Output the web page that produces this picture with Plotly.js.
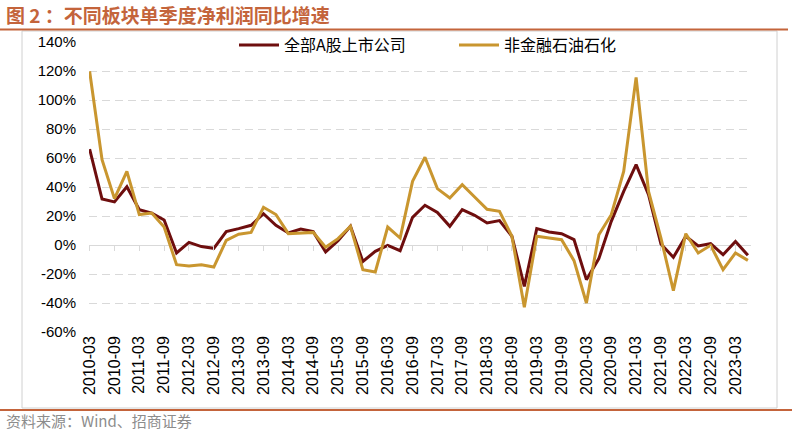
<!DOCTYPE html>
<html>
<head>
<meta charset="utf-8">
<script src="https://cdn.plot.ly/plotly-3.0.1.min.js"></script>
<style>
  body { margin: 0; background: #fff; }
  #chart { width: 792px; height: 434px; }
</style>
</head>
<body>
<div id="chart"></div>
<script>
// 季度
var quarters = [
    '2010-03', '2010-06', '2010-09', '2010-12', '2011-03', '2011-06', '2011-09', '2011-12',
    '2012-03', '2012-06', '2012-09', '2012-12', '2013-03', '2013-06', '2013-09', '2013-12',
    '2014-03', '2014-06', '2014-09', '2014-12', '2015-03', '2015-06', '2015-09', '2015-12',
    '2016-03', '2016-06', '2016-09', '2016-12', '2017-03', '2017-06', '2017-09', '2017-12',
    '2018-03', '2018-06', '2018-09', '2018-12', '2019-03', '2019-06', '2019-09', '2019-12',
    '2020-03', '2020-06', '2020-09', '2020-12', '2021-03', '2021-06', '2021-09', '2021-12',
    '2022-03', '2022-06', '2022-09', '2022-12', '2023-03', '2023-06'
];

// 单季度净利润同比增速（%）
var allAShares = [
    66.2, 31.7, 29.7, 40.2, 24.4, 22, 17.2, -5.5, 1.8, -1.1, -2.3, 9.2, 11.3, 13.6,
    21.6, 13.6, 8.3, 11, 9.2, -4.8, 3, 12.9, -11.3, -4.4, -0.2, -3.9, 19.1, 27.4,
    22.5, 12.9, 24.4, 20.5, 15.2, 16.8, 6, -28.5, 11.3, 9, 7.8, 3.7, -23.9, -9.4,
    16.3, 37, 55.4, 34.7, 0.7, -8.5, 6, -0.7, 0.9, -6.7, 2.5, -7.1
];
var exFinPetro = [
    119.8, 58.9, 32, 50.8, 21, 22, 12.4, -13.6, -14.5, -13.6, -15.2, 3.2, 7.4, 8.7,
    26, 21, 7.8, 8.3, 8.7, -1.6, 4.4, 12.9, -17, -18.6, 12.4, 4.8, 43.9, 60.5,
    38.9, 32.4, 41.6, 33.1, 24.6, 23.2, 6, -43, 6, 4.8, 3.7, -10.8, -40, 7.1,
    20.9, 50.8, 115.6, 37, 4.8, -31.5, 7.8, -5.5, -0.2, -17, -5.5, -10.6
];

var seriesNames = ['全部A股上市公司', '非金融石油石化'];
var yTicks = [-60, -40, -20, 0, 20, 40, 60, 80, 100, 120, 140];

// 每隔一个季度标一次
var xTicks = quarters.filter(function (q, i) { return i % 2 === 0; });

// 像素 -> paper 坐标
var W = 792, H = 434, mL = 89, mR = 41, mT = 42, mB = 102;
var pw = W - mL - mR, ph = H - mT - mB;
function px(p) { return (p - mL) / pw; }
function py(p) { return (H - mB - p) / ph; }

var accent = '#C4643B';
var grid = '#D9D9D9';

var data = [
    {
        x: quarters,
        y: allAShares,
        name: seriesNames[0],
        type: 'scatter',
        mode: 'lines',
        line: {color: '#6E0E0E', width: 3}
    },
    {
        x: quarters,
        y: exFinPetro,
        name: seriesNames[1],
        type: 'scatter',
        mode: 'lines',
        line: {color: '#C9962F', width: 3}
    },
    {
        // 只为0轴上的刻度线
        x: quarters,
        y: quarters.map(function () { return null; }),
        xaxis: 'x2',
        type: 'scatter',
        mode: 'lines',
        showlegend: false,
        hoverinfo: 'skip'
    }
];

var layout = {
    width: W,
    height: H,
    margin: {l: mL, r: mR, t: mT, b: mB},
    paper_bgcolor: '#fff',
    plot_bgcolor: '#fff',
    font: {family: 'Liberation Sans, Arial, sans-serif', color: '#000'},
    xaxis: {
        type: 'category',
        range: [-0.05, 53.25],
        tickmode: 'array',
        tickvals: xTicks,
        ticktext: xTicks,
        tickangle: -90,
        tickfont: {size: 16},
        ticks: '',
        showgrid: false,
        showline: false,
        zeroline: false
    },
    xaxis2: {
        type: 'category',
        matches: 'x',
        overlaying: 'x',
        anchor: 'free',
        position: 60 / 200,
        tickmode: 'array',
        tickvals: xTicks,
        ticks: 'outside',
        ticklen: 5,
        tickcolor: grid,
        showticklabels: false,
        showgrid: false,
        showline: false
    },
    yaxis: {
        range: [-60, 140],
        tickmode: 'array',
        tickvals: yTicks,
        ticktext: yTicks.map(function (v) { return v + '%'; }),
        tickfont: {size: 15},
        ticklabelstandoff: 12,
        showgrid: true,
        gridcolor: grid,
        griddash: '8px,5px',
        zeroline: true,
        zerolinecolor: grid,
        zerolinewidth: 1,
        showline: false
    },
    legend: {
        orientation: 'h',
        x: px(234), xanchor: 'left',
        y: py(45), yanchor: 'middle',
        bgcolor: 'rgba(0,0,0,0)',
        font: {family: 'Noto Sans CJK SC', size: 16, color: '#000'},
        entrywidth: 165,
        itemwidth: 40
    },
    shapes: [
        // 外框
        {type: 'rect', xref: 'paper', yref: 'paper',
         x0: px(22), x1: px(777), y0: py(31), y1: py(408),
         line: {color: '#D0D0D0', width: 1}, layer: 'below'},
        // 上下橙线
        {type: 'line', xref: 'paper', yref: 'paper',
         x0: px(0), x1: px(788), y0: py(29.5), y1: py(29.5),
         line: {color: accent, width: 2}},
        {type: 'line', xref: 'paper', yref: 'paper',
         x0: px(0), x1: px(792), y0: py(410), y1: py(410),
         line: {color: accent, width: 2}}
    ],
    annotations: [
        {
            // 图标题
            text: '<b>图 2 ：不同板块单季度净利润同比增速</b>',
            xref: 'paper', yref: 'paper',
            x: px(4), xanchor: 'left',
            y: py(15), yanchor: 'middle',
            showarrow: false,
            font: {family: 'Noto Sans CJK SC', size: 19, color: accent}
        },
        {
            text: '资料来源：Wind、招商证券',
            xref: 'paper', yref: 'paper',
            x: px(4), xanchor: 'left',
            y: py(420), yanchor: 'middle',
            showarrow: false,
            font: {family: 'Noto Sans CJK SC', size: 15, color: '#8C8C8C'}
        }
    ],
    showlegend: true
};

Plotly.newPlot('chart', data, layout, {displayModeBar: false, staticPlot: true});
</script>
</body>
</html>
